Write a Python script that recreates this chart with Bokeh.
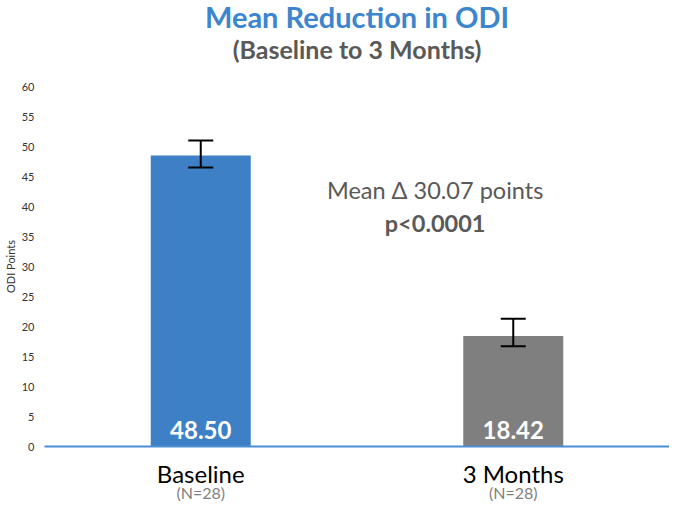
from bokeh.plotting import figure
from bokeh.models import (FactorRange, Range1d, ColumnDataSource, Whisker, TeeHead,
                          Title, FixedTicker, Label, CategoricalAxis, CustomJSTickFormatter)
from bokeh.core.properties import value
from bokeh.embed import file_html
from bokeh.resources import INLINE

categories = ["Baseline", "3 Months"]
means = [48.50, 18.42]
err_lower = [46.5, 16.7]
err_upper = [51.0, 21.3]
bar_colors = ["#3d80c6", "#7f7f7f"]
mean_labels = ["48.50", "18.42"]
n_labels = ["(N=28)", "(N=28)"]
y_ticks = list(range(0, 61, 5))

FONT = "Lato"

src = ColumnDataSource(dict(cat=categories, mean=means, lo=err_lower, hi=err_upper,
                            color=bar_colors, lab=mean_labels))

p = figure(x_range=FactorRange(*categories, range_padding=0), y_range=Range1d(0, 60),
           width=669, height=504, output_backend="svg", toolbar_location=None,
           min_border_left=0, min_border_right=0, min_border_bottom=0, min_border_top=0)
p.outline_line_color = None
p.xgrid.grid_line_color = None
p.ygrid.grid_line_color = None

p.vbar(x="cat", top="mean", width=0.32, fill_color="color", line_color=None, source=src)

w = Whisker(base="cat", lower="lo", upper="hi", source=src, dimension="height",
            line_color="black", line_width=2, level="overlay",
            lower_head=TeeHead(size=25, line_color="black", line_width=2),
            upper_head=TeeHead(size=25, line_color="black", line_width=2))
p.add_layout(w)

p.text(x="cat", y=2.7, text="lab", source=src, text_color="white",
       text_font=value(FONT), text_font_style="bold", text_font_size="24px",
       text_align="center", text_baseline="middle")

p.add_layout(Label(x=1.25, y=42.7, text="Mean \u0394 30.07 points", text_font=FONT,
                   text_font_size="23.5px", text_color="#595959",
                   text_align="center", text_baseline="middle"))
p.add_layout(Label(x=1.25, y=37.3, text="p<0.0001", text_font=FONT,
                   text_font_size="23.5px", text_font_style="bold", text_color="#595959",
                   text_align="center", text_baseline="middle"))

# y axis
yax = p.yaxis[0]
yax.ticker = FixedTicker(ticks=y_ticks)
yax.axis_line_color = None
yax.major_tick_line_color = None
yax.minor_tick_line_color = None
yax.major_tick_out = 0
yax.major_tick_in = 0
yax.major_label_text_font = FONT
yax.major_label_text_font_size = "11px"
yax.major_label_text_color = "#333333"
yax.major_label_standoff = 10
yax.axis_label = "ODI Points"
yax.axis_label_text_font = FONT
yax.axis_label_text_font_size = "11px"
yax.axis_label_text_font_style = "normal"
yax.axis_label_text_color = "#333333"
yax.axis_label_standoff = 2

# x axis
xax = p.xaxis[0]
xax.axis_line_color = "#4a8fd4"
xax.axis_line_width = 2
xax.major_tick_line_color = None
xax.minor_tick_line_color = None
xax.major_tick_out = 0
xax.major_tick_in = 0
xax.major_label_text_font = FONT
xax.major_label_text_font_size = "24px"
xax.major_label_text_color = "black"
xax.major_label_standoff = 12

# second category axis for the (N=28) sub-labels
nfmt = CustomJSTickFormatter(args=dict(cats=categories, labels=n_labels),
                             code="return labels[cats.indexOf(tick)];")
nax = CategoricalAxis(axis_line_color=None, major_tick_line_color=None,
                      minor_tick_line_color=None, major_tick_out=0, major_tick_in=0,
                      formatter=nfmt,
                      major_label_text_font=FONT, major_label_text_font_size="16px",
                      major_label_text_color="#7f7f7f", major_label_standoff=-8)
p.add_layout(nax, "below")

# spacing panel between the subtitle and the plot area
p.add_layout(Title(text=" ", text_font_size="10px", standoff=8), "above")
p.add_layout(Title(text="(Baseline to 3 Months)", align="center", text_font=FONT,
                   text_font_size="25px", text_font_style="bold", text_color="#595959",
                   offset=6, standoff=4), "above")
p.add_layout(Title(text="Mean Reduction in ODI", align="center", text_font=FONT,
                   text_font_size="29px", text_font_style="bold", text_color="#3d85cc",
                   offset=6, standoff=-8), "above")

open("out.html", "w").write(file_html(p, INLINE))
